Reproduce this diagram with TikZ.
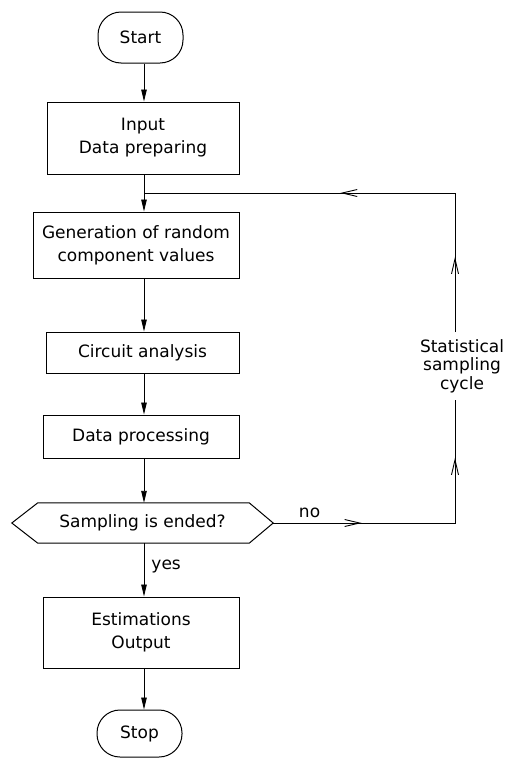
\documentclass[tikz,border=0pt]{standalone}
\usepackage{fontspec}
\setmainfont{DejaVu Sans}
\usetikzlibrary{arrows.meta,decorations.markings}
\begin{document}
\begin{tikzpicture}[x=1pt,y=-1pt,
  every node/.style={font=\fontsize{17}{23}\selectfont},
  proc/.style={draw, line width=1pt, inner sep=0pt, align=center},
  term/.style={draw, line width=1pt, rounded corners=23pt, inner sep=0pt},
  flow/.style={line width=0.9pt, -{Triangle[length=12pt,width=5.5pt]}},
  loopline/.style={line width=0.9pt, line join=miter},
  barb/.tip={Straight Barb[length=15pt,width=7pt]},
]
\path[use as bounding box] (0,0) rectangle (513,758);

\node[term, minimum width=85pt, minimum height=51pt] (start) at (140.5,37.5) {Start};
\node[proc, minimum width=192pt, minimum height=72pt] (input) at (143,138) {Input\\Data preparing};
\node[proc, minimum width=206pt, minimum height=66pt] (gen) at (136,245) {Generation of random\\component values};
\node[proc, minimum width=193pt, minimum height=41pt] (circ) at (142.5,352.5) {Circuit analysis};
\node[proc, minimum width=196pt, minimum height=43pt] (dproc) at (141,436.5) {Data processing};
\node[minimum width=261pt, minimum height=40pt, inner sep=0pt] (hex) at (142.5,523) {Sampling is ended?};
\draw[line width=1pt] ([xshift=26pt]hex.north west) -- ([xshift=-24pt]hex.north east) -- (hex.east) -- ([xshift=-24pt]hex.south east) -- ([xshift=26pt]hex.south west) -- (hex.west) -- cycle;
\node[proc, minimum width=196pt, minimum height=71pt] (est) at (141,632.5) {Estimations\\Output};
\node[term, minimum width=85pt, minimum height=47pt] (stop) at (139.5,733.5) {Stop};

\coordinate (axis) at (144,0);
\coordinate (j) at (144,193);
\coordinate (c1) at (455,193);
\coordinate (c2) at (455,523);
\node[align=center, font=\fontsize{17}{18.5}\selectfont, inner xsep=0pt, inner ysep=7pt] (cyc) at (462,366) {Statistical\\sampling\\cycle};

\draw[flow] (start.south -| axis) -- (input.north -| axis);
\draw[line width=0.9pt] (input.south -| axis) -- (j);
\draw[flow] (j) -- (gen.north -| axis);
\draw[flow] (gen.south -| axis) -- (circ.north -| axis);
\draw[flow] (circ.south -| axis) -- (dproc.north -| axis);
\draw[flow] (dproc.south -| axis) -- (hex.north -| axis);
\draw[flow] (hex.south -| axis) -- (est.north -| axis) node[pos=0.44, anchor=west, xshift=7pt, inner sep=0pt] {yes};
\draw[flow] (est.south -| axis) -- (stop.north -| axis);

\draw[loopline, postaction={decorate}, decoration={markings,
    mark=at position 0.29 with {\arrow{barb}},
    mark=at position 0.81 with {\arrow{barb}}}]
  (hex.east) -- node[pos=0.2, above=5pt, inner sep=0pt] {no} (c2) -- (cyc.south -| c2);
\draw[loopline, postaction={decorate}, decoration={markings,
    mark=at position 0.167 with {\arrow{barb}},
    mark=at position 0.564 with {\arrow{barb}}}]
  (cyc.north -| c2) -- (c1) -- (j);
\end{tikzpicture}
\end{document}
